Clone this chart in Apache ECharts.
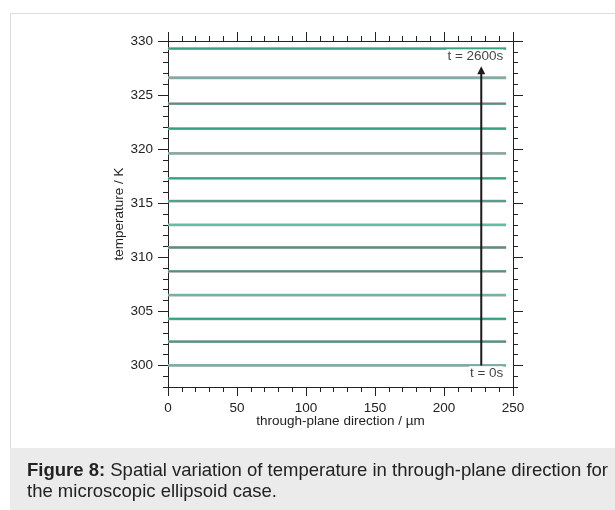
<!DOCTYPE html>
<html>
<head>
<meta charset="utf-8">
<script src="https://cdn.jsdelivr.net/npm/echarts@6/dist/echarts.min.js"></script>
<style>
  html, body { margin: 0; padding: 0; background: #fff; }
  #chart { width: 615px; height: 510px; }
</style>
</head>
<body>
<div id="chart"></div>
<script>
// temperature profiles, one flat line per time step (t = 0s ... 2600s)
const times = [0, 200, 400, 600, 800, 1000, 1200, 1400, 1600, 1800, 2000, 2200, 2400, 2600]
const temps = [300.0, 302.2, 304.3, 306.5, 308.7, 310.9, 313.0, 315.2, 317.3, 319.6, 321.9, 324.2, 326.6, 329.3]
const xStart = 0
const xEnd = 245

const yMajor = [300, 305, 310, 315, 320, 325, 330]

// arrow showing time direction
const arrowX = 227
const arrowFrom = 300
const arrowTo = 327.3
const arrowLabels = ['t = 2600s', 't = 0s']
const arrowLabelPos = [[243, 328.6], [243, 299.3]]

const FONT = 'Liberation Sans, Arial, sans-serif'
const axisColor = '#222'

var myChart = echarts.init(document.getElementById('chart'))

const series = []
times.forEach(function (t, i) {
  series.push({
    name: 't' + t + 'g',
    type: 'line',
    showSymbol: false,
    silent: true,
    data: [[xStart, temps[i]], [xEnd, temps[i]]],
    lineStyle: { color: '#a3a3a3', width: 2.8 },
    z: 2,
  })
  series.push({
    name: 't' + t,
    type: 'line',
    showSymbol: false,
    silent: true,
    data: [[xStart, temps[i]], [xEnd, temps[i]]],
    lineStyle: { color: i % 3 === 0 ? '#5fbca6' : '#36a085', width: 1.6 },
    z: 3,
  })
})

series.push({
  name: 'arrow',
  type: 'line',
  silent: true,
  data: [
    { value: [arrowX, arrowFrom], symbol: 'none' },
    { value: [arrowX, arrowTo], symbol: 'triangle', symbolSize: [8, 8] },
  ],
  lineStyle: { color: '#1a1a1a', width: 2 },
  itemStyle: { color: '#1a1a1a' },
  z: 5,
})

series.push({
  name: 'labels',
  type: 'scatter',
  silent: true,
  symbolSize: 0,
  data: arrowLabelPos.map(function (p, i) {
    return { value: p, name: arrowLabels[i] }
  }),
  label: {
    show: true,
    position: 'left',
    distance: 0,
    formatter: function (p) { return p.name },
    color: '#111',
    fontSize: 13.5,
    fontFamily: FONT,
    backgroundColor: '#fff',
    padding: [0, 0, 0, 1],
  },
  z: 6,
})

function yAx(pos, major, labels) {
  return {
    type: 'value',
    position: pos,
    min: 298,
    max: 330,
    interval: major ? undefined : 1,
    axisLine: { show: !major, lineStyle: { color: axisColor, width: 1 } },
    axisTick: major
      ? { show: true, inside: false, length: 10, customValues: yMajor, lineStyle: { color: axisColor } }
      : { show: true, inside: false, length: 5, lineStyle: { color: axisColor } },
    axisLabel: labels
      ? { show: true, customValues: yMajor, margin: 15, color: axisColor, fontSize: 13.5, fontFamily: FONT }
      : { show: false },
    splitLine: { show: false },
    name: labels ? 'temperature / K' : '',
    nameLocation: 'middle',
    nameGap: 42,
    nameMoveOverlap: false,
    nameTextStyle: { color: axisColor, fontSize: 13.5, fontFamily: FONT },
  }
}

function xAx(pos, labels) {
  return {
    type: 'value',
    position: pos,
    min: 0,
    max: 250,
    interval: 50,
    axisLine: { show: true, onZero: false, lineStyle: { color: axisColor, width: 1 } },
    axisTick: { show: true, inside: false, length: 9, lineStyle: { color: axisColor } },
    minorTick: { show: true, splitNumber: 5, length: 5, lineStyle: { color: axisColor } },
    axisLabel: labels
      ? { show: true, margin: 14, color: axisColor, fontSize: 13.5, fontFamily: FONT }
      : { show: false },
    splitLine: { show: false },
    name: labels ? 'through-plane direction / µm' : '',
    nameLocation: 'middle',
    nameGap: 27,
    nameMoveOverlap: false,
    nameTextStyle: { color: axisColor, fontSize: 13.5, fontFamily: FONT },
  }
}

let option = {
  animation: false,
  backgroundColor: '#fff',
  grid: { left: 168, right: 102, top: 41, bottom: 123, containLabel: false },
  xAxis: [xAx('bottom', true), xAx('top', false)],
  yAxis: [yAx('left', false, false), yAx('left', true, true), yAx('right', false, false), yAx('right', true, false)],
  series: series,
  graphic: [
    { type: 'line', shape: { x1: 10.5, y1: 13.5, x2: 615, y2: 13.5 }, style: { stroke: '#dcdcdc', lineWidth: 1 } },
    { type: 'line', shape: { x1: 10.5, y1: 13.5, x2: 10.5, y2: 448 }, style: { stroke: '#dcdcdc', lineWidth: 1 } },
    { type: 'rect', shape: { x: 10, y: 448, width: 605, height: 62 }, style: { fill: '#ebebeb' } },
    {
      type: 'text',
      left: 27,
      top: 460,
      style: {
        text: '{b|Figure 8:} Spatial variation of temperature in through-plane direction for\nthe microscopic ellipsoid case.',
        fontSize: 18.5,
        fontFamily: FONT,
        fill: '#222',
        lineHeight: 21,
        rich: {
          b: { fontWeight: 'bold', fontSize: 18.5, fontFamily: FONT, fill: '#222', lineHeight: 21 },
        },
      },
    },
  ],
}

myChart.setOption(option)
</script>
</body>
</html>
